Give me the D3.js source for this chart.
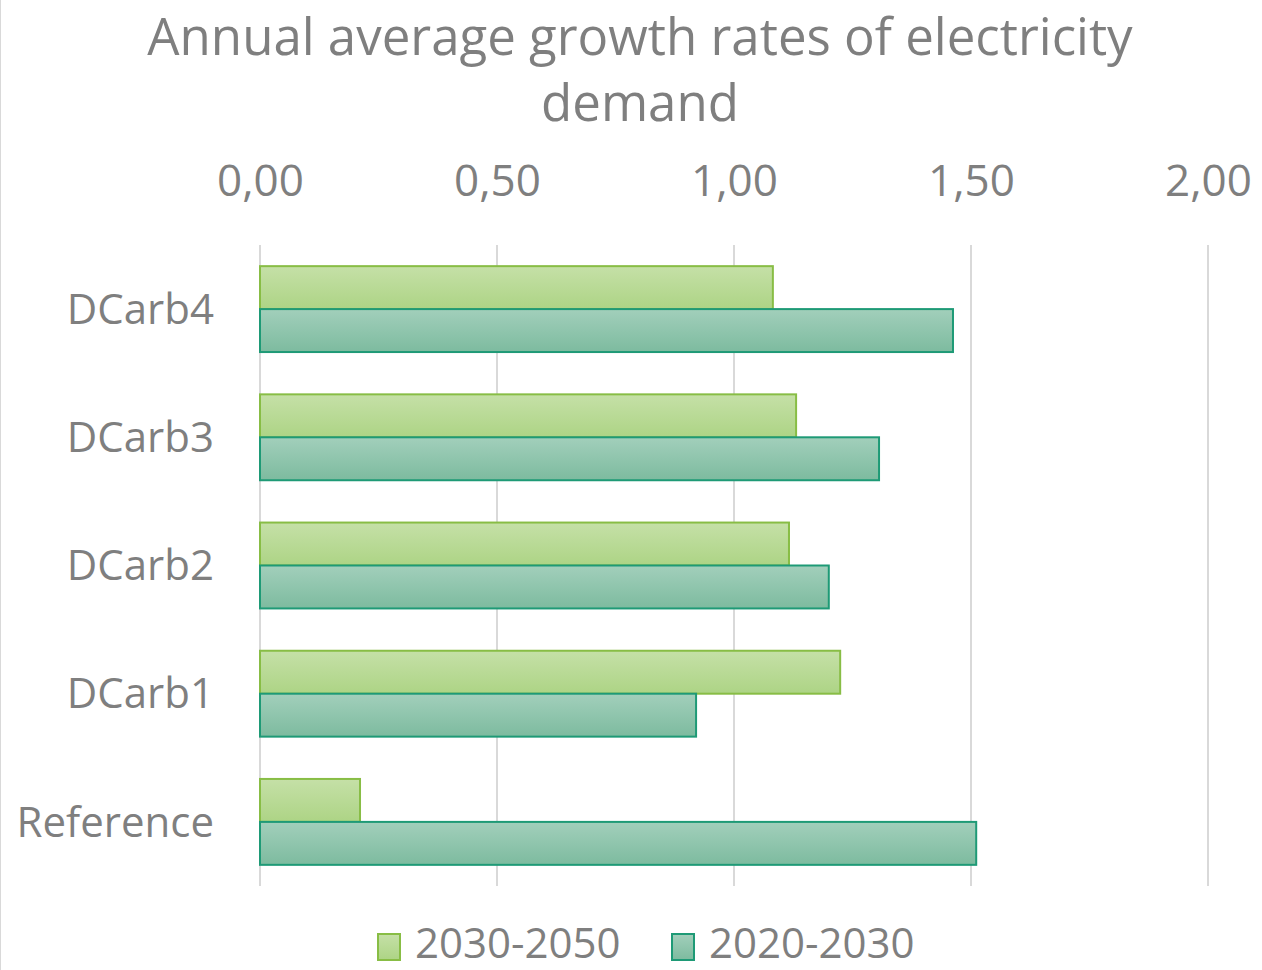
<!DOCTYPE html>
<html>
<head>
<meta charset="utf-8">
<script src="https://cdn.jsdelivr.net/npm/d3@7"></script>
<style>
  html, body { margin: 0; padding: 0; background: #fff; }
  svg { display: block; }
  text { font-family: "Open Sans", "Noto Sans", sans-serif; fill: #7f7f7f; }
</style>
</head>
<body>
<svg id="chart" width="1262" height="970"></svg>
<script>
// Scenarios (top to bottom) and annual average growth rates (%)
const categories = ["DCarb4", "DCarb3", "DCarb2", "DCarb1", "Reference"];
const seriesNames = ["2030-2050", "2020-2030"];
const growth2030_2050 = [1.082, 1.131, 1.116, 1.224, 0.211];
const growth2020_2030 = [1.462, 1.306, 1.200, 0.920, 1.511];
const tickValues = [0, 0.5, 1.0, 1.5, 2.0];
const titleLines = ["Annual average growth rates of electricity", "demand"];

const svg = d3.select("#chart");
const W = 1262, H = 970;

// Outer frame edge on the left
svg.append("line").attr("x1", 0.5).attr("x2", 0.5).attr("y1", 0).attr("y2", H)
  .attr("stroke", "#d9d9d9").attr("stroke-width", 1);

const plot = { left: 260, right: 1208, top: 245, bottom: 886 };

const x = d3.scaleLinear().domain([0, 2]).range([plot.left, plot.right]);
const y = d3.scaleBand().domain(categories).range([plot.top, plot.bottom]).paddingInner(0.33).paddingOuter(0.165);
const ySub = d3.scaleBand().domain(seriesNames).range([0, y.bandwidth()]);

// Gradients for bar fills
const defs = svg.append("defs");
const grads = {
  "2030-2050": { id: "gLight", top: "#c5e0a7", bottom: "#add485", stroke: "#88bd45" },
  "2020-2030": { id: "gTeal", top: "#a2cfbb", bottom: "#7dbb9f", stroke: "#1e9a76" }
};
Object.values(grads).forEach(g => {
  const lg = defs.append("linearGradient").attr("id", g.id)
    .attr("x1", 0).attr("y1", 0).attr("x2", 0).attr("y2", 1);
  lg.append("stop").attr("offset", "0%").attr("stop-color", g.top);
  lg.append("stop").attr("offset", "100%").attr("stop-color", g.bottom);
});

// Title
svg.append("g").selectAll("text").data(titleLines).join("text")
  .attr("x", 640).attr("y", (d, i) => 55 + i * 66)
  .attr("text-anchor", "middle")
  .style("font-size", "51px")
  .text(d => d);

// Top axis labels
const xAxis = d3.axisTop(x).tickValues(tickValues)
  .tickSize(0)
  .tickFormat(d => d3.format(".2f")(d).replace(".", ","));
const axisG = svg.append("g").attr("transform", `translate(0, 196)`).call(xAxis);
axisG.select(".domain").remove();
axisG.selectAll("text").attr("dy", 0).attr("y", 0)
  .style("font-size", "44px").attr("fill", "#7f7f7f").style("font-family", "'Open Sans', sans-serif");

// Vertical gridlines
svg.append("g").selectAll("line").data(tickValues).join("line")
  .attr("x1", d => x(d)).attr("x2", d => x(d))
  .attr("y1", plot.top).attr("y2", plot.bottom)
  .attr("stroke", "#d9d9d9").attr("stroke-width", 2);

// Bars
const rows = categories.map((c, i) => ({
  cat: c,
  vals: [
    { s: "2030-2050", v: growth2030_2050[i] },
    { s: "2020-2030", v: growth2020_2030[i] }
  ]
}));

const groups = svg.append("g").selectAll("g").data(rows).join("g")
  .attr("transform", d => `translate(0, ${y(d.cat)})`);

groups.selectAll("rect").data(d => d.vals).join("rect")
  .attr("x", x(0))
  .attr("y", d => ySub(d.s))
  .attr("width", d => x(d.v) - x(0))
  .attr("height", ySub.bandwidth())
  .attr("fill", d => `url(#${grads[d.s].id})`)
  .attr("stroke", d => grads[d.s].stroke)
  .attr("stroke-width", 2);

// Category labels
svg.append("g").selectAll("text").data(categories).join("text")
  .attr("x", 214)
  .attr("y", d => y(d) + y.bandwidth() / 2)
  .attr("dy", "0.35em")
  .attr("text-anchor", "end")
  .style("font-size", "42px")
  .text(d => d);

// Legend
const legendItems = [
  { s: "2030-2050", x: 378 },
  { s: "2020-2030", x: 672 }
];
const lg = svg.append("g").selectAll("g").data(legendItems).join("g")
  .attr("transform", d => `translate(${d.x}, 0)`);
lg.append("rect").attr("x", 0).attr("y", 934).attr("width", 22).attr("height", 26)
  .attr("fill", d => `url(#${grads[d.s].id})`)
  .attr("stroke", d => grads[d.s].stroke).attr("stroke-width", 2);
lg.append("text").attr("x", 37).attr("y", 958)
  .style("font-size", "42px")
  .text(d => d.s);
</script>
</body>
</html>
